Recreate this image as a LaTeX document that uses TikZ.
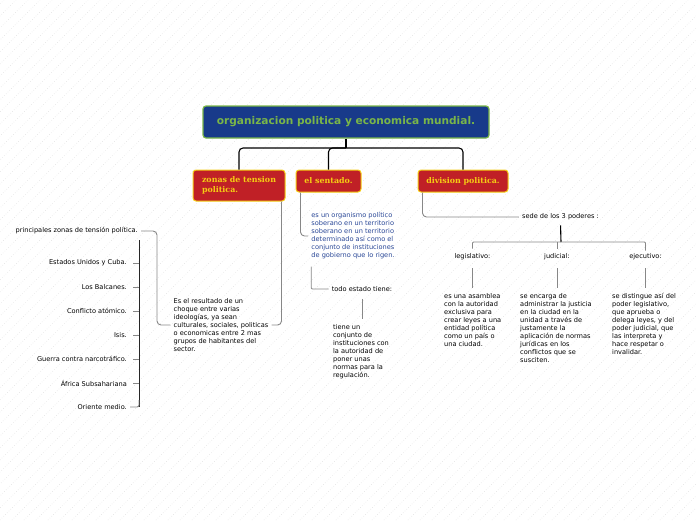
\documentclass[tikz,border=0pt]{standalone}
\usepackage{fontspec}
\setmainfont{DejaVu Sans}
\newfontfamily\topicfont{DejaVu Serif}
\usepackage{xcolor}
\usetikzlibrary{positioning}
\definecolor{rootblue}{RGB}{24,58,138}
\definecolor{rootgreen}{RGB}{122,182,72}
\definecolor{topicred}{RGB}{192,32,38}
\definecolor{topicyellow}{RGB}{245,205,20}
\definecolor{noteblue}{RGB}{40,70,150}
\definecolor{linkgray}{RGB}{135,135,135}
\definecolor{hatch}{RGB}{220,220,220}

\begin{document}
\begin{tikzpicture}[x=1pt, y=-1pt, every text node part/.style={align=left},
  root box/.style={draw=rootgreen, line width=1.2pt, fill=rootblue, rounded corners=3pt, text=rootgreen, font=\fontsize{10.6}{12}\selectfont\bfseries, minimum width=286pt, minimum height=32pt},
  topic box/.style={draw=topicyellow, line width=1pt, fill=topicred, rounded corners=3pt, text=topicyellow, font=\topicfont\fontsize{7.9}{10}\selectfont\bfseries, minimum height=22pt},
  note/.style={inner sep=3pt, font=\fontsize{6.6}{8}\selectfont},
  stem/.style={draw=black, line width=1.1pt, rounded corners=4pt},
  link/.style={draw=linkgray, line width=0.9pt, rounded corners=4pt}]

\useasboundingbox (0,0) rectangle (696,520);
\begin{scope}
\clip (0,0) rectangle (696,520);
\foreach \i in {-528,-516,...,696}
  \draw [hatch, dotted, line width=0.5pt] (\i,520) -- (\i+520,0);
\end{scope}

\node (organizacion) [root box] at (346,122) {organizacion politica y economica mundial.};

\node (zonas) [topic box, minimum width=92pt, minimum height=31pt] at (239,185.5) {zonas de tension\\politica.};
\node (sentado) [topic box, minimum width=65pt] at (328.5,181) {el sentado.};
\node (division) [topic box, minimum width=90pt] at (463,181) {division politica.};

\coordinate (root fork) at (346,148);
\draw [stem] (organizacion.south) -- (root fork);
\draw [stem] (zonas.north) |- (root fork) -| (division.north);
\draw [stem] (root fork) -| (sentado.north);

\node (resultado) [note] at (221,325) {Es el resultado de un\\choque entre varias\\ideologías, ya sean\\culturales, sociales, politicas\\o economicas entre 2 mas\\grupos de habitantes del\\sector.};
\node (principales) [note, anchor=east] at (141,231) {principales zonas de tensión política.};

\node (estados) [note, anchor=east] at (130,263) {Estados Unidos y Cuba.};
\node (balcanes) [note, anchor=east] at (130,287) {Los Balcanes.};
\node (atomico) [note, anchor=east] at (130,311) {Conflicto atómico.};
\node (isis) [note, anchor=east] at (130,335) {Isis.};
\node (narcotrafico) [note, anchor=east] at (130,359) {Guerra contra narcotráfico.};
\node (africa) [note, anchor=east] at (130,383) {África Subsahariana};
\node (oriente) [note, anchor=east] at (130,407) {Oriente medio.};

\coordinate (zonas turn) at (157,0);
\coordinate (list spine) at (139,240);
\draw [link] ([xshift=-4pt]zonas.south east) |- (resultado.east);
\draw [link] (resultado.west) -| (zonas turn |- principales.east) -- (principales.east);
\draw [black!85, line width=1pt] (list spine) -- (list spine |- oriente.east);
\draw [link, rounded corners=2pt] (list spine |- 0,400) |- (oriente.east);
\foreach \n in {estados, balcanes, atomico, isis, narcotrafico, africa}
  \draw [link, shorten <=3pt] (\n.east) -- (\n.east -| list spine);

\node (organismo) [note, text=noteblue] at (353,236) {es un organismo político\\soberano en un territorio\\soberano en un territorio\\determinado así como el\\conjunto de instituciones\\de gobierno que lo rigen.};
\node (estado) [note] at (362,289) {todo estado tiene:};
\node (tiene) [note] at (361,351.5) {tiene un\\conjunto de\\instituciones con\\la autoridad de\\poner unas\\normas para la\\regulación.};

\draw [link] ([xshift=5pt]sentado.south west) |- (organismo.west);
\draw [link, rounded corners=1pt, shorten <=4pt] ([xshift=3pt]organismo.south west) |- (estado.west);
\draw [link, shorten <=4pt, shorten >=2pt] (estado.south) -- (estado.south |- tiene.north);

\node (sede) [note] at (560.5,217) {sede de los 3 poderes :};
\node (legislativo) [note] at (472.5,257) {legislativo:};
\node (judicial) [note] at (557,257) {judicial:};
\node (ejecutivo) [note] at (645.5,257) {ejecutivo:};

\coordinate (poderes fork) at (561,242);
\draw [link] ([xshift=5pt]division.south west) |- (sede.west);
\draw [stem, shorten <=2pt] (sede.south) -- (poderes fork);
\draw [link, rounded corners=1pt, shorten <=2pt] (legislativo.north) |- (poderes fork) -| (ejecutivo.north);
\draw [link, shorten <=2pt] (judicial.north) -- (judicial.north |- poderes fork);

\node (asamblea) [note, anchor=north west] at (441,290) {es una asamblea\\con la autoridad\\exclusiva para\\crear leyes a una\\entidad política\\como un país o\\una ciudad.};
\node (justicia) [note, anchor=north west] at (517,290) {se encarga de\\administrar la justicia\\en la ciudad en la\\unidad a través de\\justamente la\\aplicación de normas\\jurídicas en los\\conflictos que se\\susciten.};
\node (distingue) [note, anchor=north west] at (609,290) {se distingue así del\\poder legislativo,\\que aprueba o\\delega leyes, y del\\poder judicial, que\\las interpreta y\\hace respetar o\\invalidar.};

\draw [link, shorten <=5pt, shorten >=2pt] (legislativo.south) -- (legislativo.south |- asamblea.north);
\draw [link, shorten <=5pt, shorten >=2pt] (judicial.south) -- (judicial.south |- justicia.north);
\draw [link, shorten <=5pt, shorten >=2pt] (ejecutivo.south) -- (ejecutivo.south |- distingue.north);

\end{tikzpicture}
\end{document}
